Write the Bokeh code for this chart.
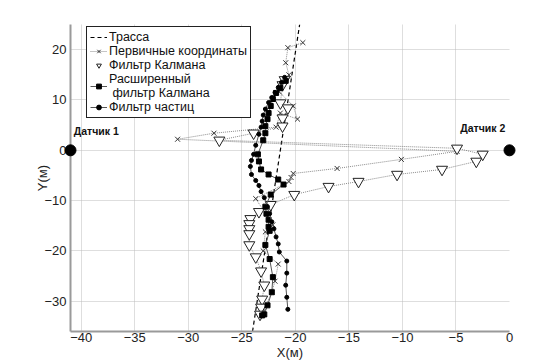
from bokeh.plotting import figure
from bokeh.models import Legend, LegendItem, Range1d, FixedTicker
from bokeh.core.properties import value
from bokeh.embed import file_html
from bokeh.resources import INLINE

# ---- data ----
track_x = [-24.0, -19.6]
track_y = [-36.0, 25.0]

prim_x = [-19.3, -20.7, -20.9, -20.6, -21.2, -21.5, -20.2, -19.8, -21.4, -21.8, -27.6, -31.0,
          -4.9, -10.1, -16.1, -20.2, -20.4, -20.6, -23.7, -22.1, -22.8, -23.0, -21.6, -21.9, -22.2, -23.0]
prim_y = [21.4, 20.4, 17.4, 15.0, 13.2, 11.6, 8.8, 6.2, 7.4, 4.6, 3.4, 2.2,
          -0.2, -1.8, -3.6, -4.6, -5.4, -6.2, -9.6, -14.8, -16.2, -20.0, -22.6, -26.0, -28.2, -32.0]

kal_x = [-21.0, -21.2, -21.4, -20.7, -21.2, -21.2, -23.9, -27.1, -4.9, -2.5, -3.1, -6.3, -10.5, -14.1,
         -16.9, -20.1, -22.3, -23.4, -24.2, -24.3, -24.3, -24.3, -24.3, -23.7, -23.2, -22.9, -23.1, -23.2, -23.3]
kal_y = [14.0, 13.0, 9.4, 8.4, 6.4, 4.8, 3.4, 2.0, 0.4, -0.8, -2.2, -3.8, -4.8, -6.2,
         -7.2, -8.8, -10.8, -12.2, -13.6, -14.6, -15.6, -16.6, -18.8, -21.2, -24.0, -26.8, -29.6, -31.2, -32.6]

ekf_x = [-20.9, -21.4, -21.8, -22.1, -22.3, -22.5, -22.6, -22.8, -22.8, -23.0, -23.5, -23.4, -23.2, -22.5,
         -21.6, -21.1, -22.3, -22.8, -22.7, -22.5, -22.5, -22.4, -22.8, -22.4, -22.1, -22.2, -22.6, -22.9, -23.1]
ekf_y = [13.8, 12.4, 11.4, 10.2, 8.8, 7.4, 6.2, 4.8, 3.4, 2.0, -0.8, -2.2, -3.8, -4.8,
         -5.8, -6.8, -8.8, -11.2, -12.6, -13.8, -15.2, -16.0, -18.8, -21.6, -25.2, -28.2, -30.8, -32.6, -32.8]

pf_x = [-21.0, -21.3, -21.6, -21.9, -22.2, -22.5, -22.8, -23.0, -23.1, -23.2, -23.4, -23.7, -23.9, -24.1,
        -24.2, -24.1, -23.7, -23.4, -23.2, -22.9, -22.6, -22.4, -22.2, -22.0, -21.8, -21.6, -21.5, -20.8,
        -20.8, -20.9, -20.8, -20.7]
pf_y = [14.5, 13.5, 12.5, 11.5, 10.5, 9.5, 8.2, 7.0, 5.8, 4.6, 3.2, 1.0, -0.8, -2.0,
        -3.2, -4.8, -6.0, -7.0, -8.2, -9.4, -11.2, -12.6, -14.2, -15.6, -17.2, -18.6, -20.2, -22.0,
        -24.4, -26.8, -29.2, -31.6]

sensor_x = [-41.0, 0.0]
sensor_y = [0.0, 0.0]
sensor_names = ["Датчик 1", "Датчик 2"]
sensor_label_x = [-40.7, -4.6]
sensor_label_y = [3.8, 4.4]

x_ticks = [-40, -35, -30, -25, -20, -15, -10, -5, 0]
y_ticks = [-30, -20, -10, 0, 10, 20]

FONT = "Liberation Sans"

p = figure(width=552, height=362, output_backend="svg", toolbar_location=None,
           x_range=Range1d(-41, 0), y_range=Range1d(-36, 25),
           min_border_left=70, min_border_right=43, min_border_top=24, min_border_bottom=10)
p.outline_line_color = None
p.background_fill_color = "white"

for ax in (p.xaxis[0], p.yaxis[0]):
    ax.axis_line_color = "#9a9a9a"
    ax.axis_line_width = 2
    ax.major_tick_line_color = None
    ax.minor_tick_line_color = None
    ax.major_tick_out = 0
    ax.major_tick_in = 0
    ax.minor_tick_out = 0
    ax.minor_tick_in = 0
    ax.major_label_text_font = FONT
    ax.major_label_text_font_size = "13px"
    ax.major_label_text_color = "#222222"
    ax.axis_label_text_font = FONT
    ax.axis_label_text_font_size = "13px"
    ax.axis_label_text_font_style = "normal"
    ax.axis_label_text_color = "#222222"

p.xaxis.ticker = FixedTicker(ticks=x_ticks)
p.yaxis.ticker = FixedTicker(ticks=y_ticks)
p.xaxis.major_label_standoff = 1
p.yaxis.major_label_standoff = 4
p.xaxis.axis_label = "X(м)"
p.yaxis.axis_label = "Y(м)"
p.xaxis.axis_label_standoff = 0
p.yaxis.axis_label_standoff = -9

p.grid.grid_line_color = "#bdbdbd"
p.grid.grid_line_dash = "1 1"
p.grid.grid_line_width = 1

# track
r_track = p.line(track_x, track_y, line_color="black", line_dash="4 3", line_width=1.2)

# primary coordinates
r_prim_l = p.line(prim_x, prim_y, line_color="#8a8a8a", line_dash="1 1", line_width=1)
r_prim_m = p.scatter(prim_x, prim_y, marker="x", size=7, line_color="#333333", line_width=1)

# Kalman
r_kal_l = p.line(kal_x, kal_y, line_color="#8a8a8a", line_dash="1 1", line_width=1)
r_kal_m = p.scatter(kal_x, kal_y, marker="inverted_triangle", size=11, fill_color="white",
                    line_color="#222222", line_width=1)

# Extended Kalman
r_ekf_l = p.line(ekf_x, ekf_y, line_color="#555555", line_width=1)
r_ekf_m = p.scatter(ekf_x, ekf_y, marker="square", size=5, fill_color="black", line_color="black")

# particle filter
r_pf_l = p.line(pf_x, pf_y, line_color="#555555", line_width=1)
r_pf_m = p.scatter(pf_x, pf_y, marker="circle", size=4, fill_color="black", line_color="black")

# sensors
r_sens = p.scatter(sensor_x, sensor_y, marker="circle", size=11, fill_color="black",
                   line_color="black", level="overlay")
p.text(sensor_label_x, sensor_label_y, text=sensor_names, text_font=value(FONT),
       text_font_size="10.5px", text_font_style="bold", text_baseline="middle",
       text_align="left", text_color="#111111")

legend = Legend(items=[
    LegendItem(label="Трасса", renderers=[r_track]),
    LegendItem(label="Первичные координаты", renderers=[r_prim_l, r_prim_m]),
    LegendItem(label="Фильтр Калмана", renderers=[r_kal_m]),
    LegendItem(label="Расширенный\n фильтр Калмана", renderers=[r_ekf_l, r_ekf_m]),
    LegendItem(label="Фильтр частиц", renderers=[r_pf_l, r_pf_m]),
], location=(16, 213))
legend.label_text_font = FONT
legend.label_text_font_size = "12.5px"
legend.label_text_color = "#111111"
legend.label_text_line_height = 1.0
legend.label_height = 12
legend.glyph_height = 12
legend.glyph_width = 17
legend.label_standoff = 2
legend.spacing = 0
legend.padding = 3
legend.margin = 0
legend.border_line_color = "#222222"
legend.border_line_alpha = 1.0
legend.border_line_width = 1
legend.background_fill_color = "white"
legend.background_fill_alpha = 1
p.add_layout(legend, "center")

open("out.html", "w").write(file_html(p, INLINE))
